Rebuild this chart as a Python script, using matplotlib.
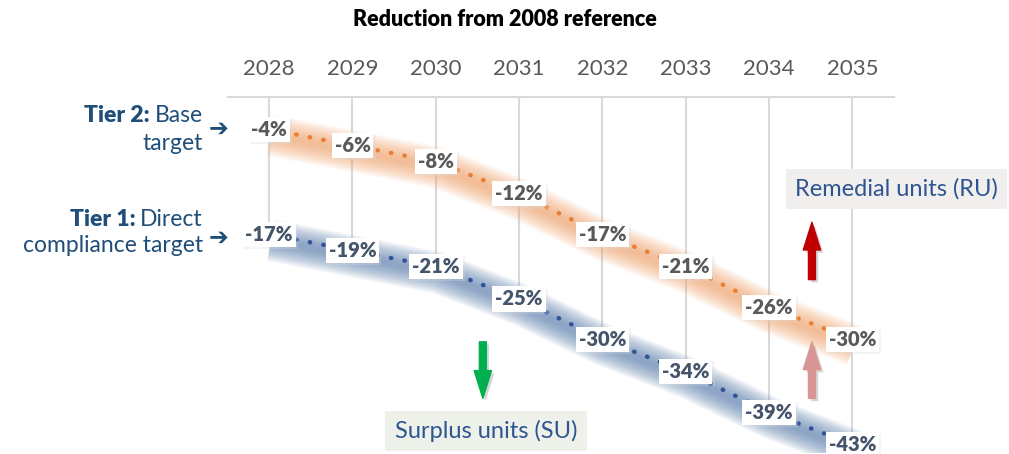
import matplotlib
matplotlib.use("Agg")
import matplotlib.pyplot as plt
import matplotlib.patheffects as pe
from matplotlib.transforms import offset_copy

plt.rcParams["font.family"] = ["Lato", "DejaVu Sans"]

years = ["2028", "2029", "2030", "2031", "2032", "2033", "2034", "2035"]
tier2 = [-4, -6, -8, -12, -17, -21, -26, -30]
tier1 = [-17, -19, -21, -25, -30, -34, -39, -43]

ORANGE = "#ED7D31"
ORANGE_BAND = "#F2A46C"
BLUE = "#2F5597"
BLUE_BAND = "#5B7DAE"
NAVY = "#1F4E79"
GRID = "#D9D9D9"

W, H = 1009, 454
fig = plt.figure(figsize=(W / 100, H / 100), dpi=100)
ax = fig.add_axes([227.5 / W, 1.5 / H, 666.5 / W, 355.5 / H])
x = list(range(len(years)))
ax.set_xlim(-0.5, len(years) - 0.5)
ax.set_ylim(-44, 0)

for s in ["left", "right", "bottom"]:
    ax.spines[s].set_visible(False)
ax.spines["top"].set_color(GRID)
ax.spines["top"].set_linewidth(1.5)
ax.xaxis.tick_top()
ax.set_xticks(x)
ax.set_xticklabels(years, fontsize=16, color="#595959")
ax.tick_params(axis="x", length=0, pad=13)
ax.set_yticks([])

# drop lines from the axis down to the lower series
ax.vlines(x, tier1, 0, color=GRID, lw=1.5, zorder=1)

# soft shadow bands
band_tr = offset_copy(ax.transData, fig=fig, x=2, y=-6, units="dots")
for vals, col in [(tier2, ORANGE_BAND), (tier1, BLUE_BAND)]:
    for lw in range(30, 3, -2):
        ax.plot(x, vals, color=col, lw=lw, alpha=0.075, transform=band_tr,
                solid_capstyle="butt", solid_joinstyle="round", zorder=2)

# dotted series lines
ax.plot(x, tier2, color=ORANGE, lw=3.2, linestyle=(0, (0.1, 3.0)),
        dash_capstyle="round", zorder=3)
ax.plot(x, tier1, color=BLUE, lw=3.2, linestyle=(0, (0.1, 3.0)),
        dash_capstyle="round", zorder=3)

# data labels
for vals, col in [(tier2, "#595959"), (tier1, "#44546A")]:
    for xi, v in zip(x, vals):
        t = ax.text(xi, v, f"{v}%", ha="center", va="center", fontsize=14.5,
                    fontweight="heavy", color=col, zorder=5,
                    bbox=dict(boxstyle="square,pad=0.15", fc="white", ec="none"))
        t.get_bbox_patch().set_path_effects(
            [pe.SimplePatchShadow(offset=(1.5, -1.5), shadow_rgbFace="#DDDDDD", alpha=0.3),
             pe.Normal()])

fig.text(505 / W, 1 - 19 / H, "Reduction from 2008 reference", ha="center",
         va="center", fontsize=15.5, fontweight="heavy", color="black")

# left side labels with mixed weights
fig.canvas.draw()
renderer = fig.canvas.get_renderer()
LFS = 16.5


def two_part(xr, y, bold, normal):
    t = fig.text(xr / W, 1 - y / H, normal, ha="right", va="center",
                 fontsize=LFS, color=NAVY)
    bb = t.get_window_extent(renderer)
    fig.text(bb.x0 / W, 1 - y / H, bold + " ", ha="right", va="center",
             fontsize=LFS, color=NAVY, fontweight="heavy")


two_part(203, 115, "Tier 2:", "Base")
fig.text(203 / W, 1 - 143 / H, "target", ha="right", va="center",
         fontsize=LFS, color=NAVY)
two_part(203, 220, "Tier 1:", "Direct")
fig.text(203 / W, 1 - 246 / H, "compliance target", ha="right", va="center",
         fontsize=LFS, color=NAVY)
for yy in [129, 238]:
    fig.text(219 / W, 1 - yy / H, "➔", ha="center", va="center", fontsize=17,
             color=NAVY, family="DejaVu Sans", fontweight="bold")

# unit boxes
fig.text(795 / W, 1 - 189 / H, "Remedial units (RU)", ha="left", va="center",
         fontsize=17, color="#2E5591",
         bbox=dict(boxstyle="square,pad=0.4", fc="#F1EEEE", ec="none"))
fig.text(486 / W, 1 - 431 / H, "Surplus units (SU)", ha="center", va="center",
         fontsize=17, color="#2E5591",
         bbox=dict(boxstyle="square,pad=0.4", fc="#EEF1EA", ec="none"))

# arrows
shadow = [pe.SimplePatchShadow(offset=(2, -2), shadow_rgbFace="#888888", alpha=0.35),
          pe.Normal()]
arrow_style = "simple,head_length=2.0,head_width=1.25,tail_width=0.5"
for tail, tip, col in [((6.515, -22.6), (6.515, -15.5), "#C00000"),
                       ((6.515, -37.3), (6.515, -30.3), "#D99594"),
                       ((2.565, -30.3), (2.565, -37.3), "#00B050")]:
    ax.annotate("", xy=tip, xytext=tail, zorder=6,
                arrowprops=dict(arrowstyle=arrow_style, color=col, mutation_scale=10,
                                shrinkA=0, shrinkB=0, path_effects=shadow))

fig.savefig("out.png", dpi=100)
